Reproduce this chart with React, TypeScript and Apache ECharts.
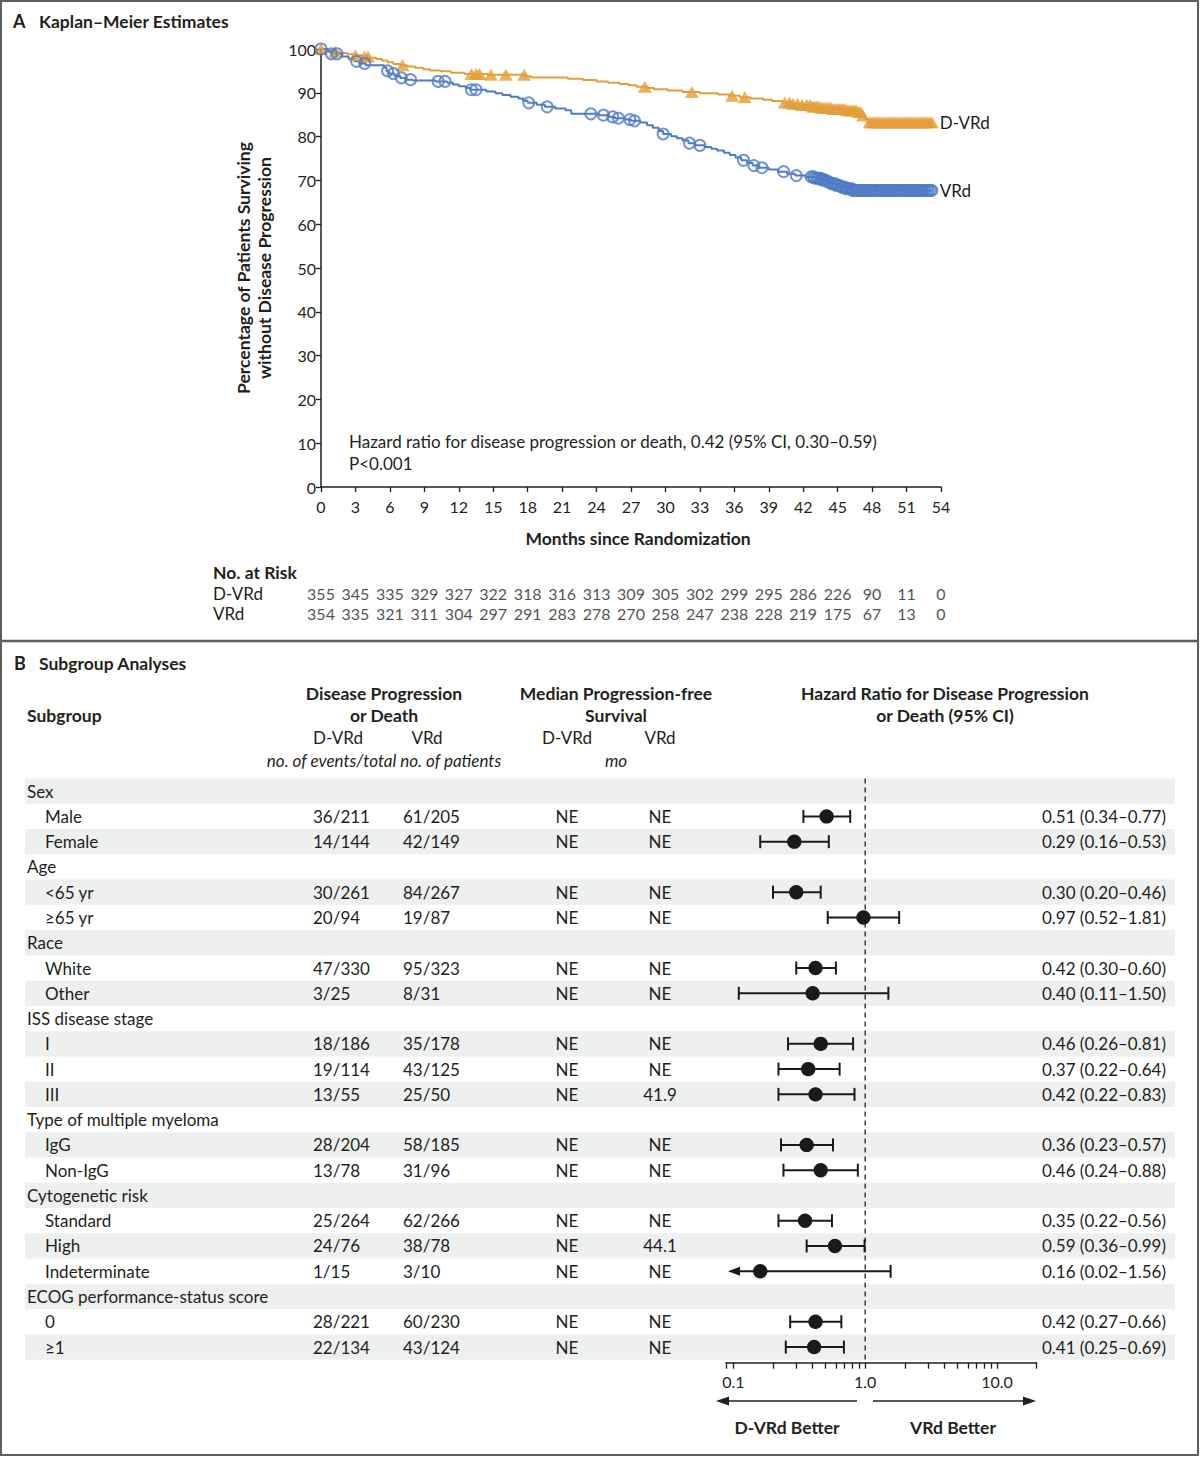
import React, { useEffect, useRef } from "react";
import * as echarts from "echarts";

const FONT = "Lato, 'Noto Sans', sans-serif";
const ORANGE = "#E39E38";
const BLUE = "#4F7CC6";
const TEXT = "#231F20";
const STRIPE = "#EEEFEF";
const FRAME = "#5E5E5E";
const FS = 17;
const FSB = 17.5;

// ---- Panel A: Kaplan–Meier curves [month, % surviving without progression]
const dvrdCurve: number[][] = [
  [0, 100], [0.5, 99.7], [1.0, 99.4], [1.6, 99.1], [2.3, 98.8], [3.0, 98.6], [3.6, 98.3], [4.2, 98.0],
  [4.8, 97.7], [5.3, 97.4], [5.8, 97.0], [6.3, 96.6], [6.9, 96.3], [7.5, 96.0], [8.2, 95.7], [8.9, 95.4],
  [9.5, 95.1], [10.4, 94.9], [11.3, 94.6], [12.5, 94.3], [14.5, 94.1], [17.8, 93.8], [18.3, 93.5],
  [21.5, 93.2], [22.8, 92.9], [24.0, 92.6], [25.0, 92.3], [26.0, 92.0], [26.8, 91.7], [27.5, 91.4],
  [28.4, 91.1], [29.0, 90.8], [30.2, 90.5], [31.5, 90.2], [33.0, 89.9], [34.6, 89.6], [35.6, 89.3],
  [36.5, 89.0], [37.4, 88.7], [38.5, 88.4], [39.3, 88.1], [40.2, 87.8], [41.0, 87.5], [41.9, 87.2],
  [42.7, 86.9], [43.6, 86.6], [44.6, 86.3], [45.8, 86.0], [46.8, 85.6], [47.2, 84.8], [47.4, 84.0],
  [47.7, 83.3], [53.2, 83.3],
];
const vrdCurve: number[][] = [
  [0, 100], [0.6, 99.4], [0.9, 98.9], [1.8, 98.3], [2.4, 97.8], [2.9, 97.2], [3.4, 96.7], [3.9, 96.3],
  [5.5, 95.8], [5.7, 95.0], [5.9, 94.4], [6.4, 93.9], [6.9, 93.4], [7.4, 93.0], [8.0, 92.8], [10.0, 92.6],
  [11.0, 92.3], [11.5, 91.9], [12.0, 91.5], [12.6, 91.1], [13.0, 90.7], [14.4, 90.3], [15.2, 89.9],
  [15.8, 89.5], [16.5, 89.1], [17.2, 88.7], [17.6, 88.2], [18.0, 87.7], [18.8, 87.3], [19.5, 86.8],
  [20.4, 86.4], [21.3, 86.0], [21.8, 85.2], [24.2, 84.9], [25.1, 84.5], [25.6, 84.2], [26.5, 83.9],
  [27.0, 83.6], [27.8, 83.2], [28.4, 82.6], [28.9, 82.0], [29.4, 81.3], [29.8, 80.6], [30.5, 80.1],
  [31.0, 79.6], [31.5, 79.1], [32.0, 78.5], [32.6, 78.0], [33.4, 77.6], [34.0, 77.2], [34.5, 76.8],
  [35.1, 76.3], [35.6, 75.8], [36.1, 75.2], [36.6, 74.6], [37.1, 74.0], [37.6, 73.4], [38.1, 72.9],
  [39.0, 72.5], [39.8, 72.0], [40.6, 71.5], [41.3, 71.1], [42.2, 70.8], [43.0, 70.5], [43.6, 70.1],
  [44.0, 69.7], [44.4, 69.3], [44.8, 68.9], [45.2, 68.5], [45.7, 68.1], [46.3, 67.7], [53.2, 67.7],
];
// censoring times (months)
const dvrdCensor: number[] = [
  0, 1.2, 3.0, 3.8, 4.1, 7.1, 13.1, 13.5, 13.8, 14.8, 16.1, 17.7, 28.2, 32.3, 35.8, 36.9,
  40.4, 40.8, 41.1, 41.5, 41.9, 42.3, 42.6, 42.8, 43.0, 43.2, 43.4, 43.6, 43.8, 44.0, 44.2, 44.4,
  44.6, 44.8, 45.0, 45.2, 45.4, 45.6, 45.8, 46.0, 46.2, 46.4, 46.6, 46.8, 47.0, 47.2, 47.8, 48.0,
  48.2, 48.4, 48.6, 48.8, 49.0, 49.2, 49.4, 49.6, 49.8, 50.0, 50.2, 50.4, 50.6, 50.8, 51.0, 51.2,
  51.4, 51.6, 51.8, 52.0, 52.2, 52.4, 52.6, 52.8, 53.0, 53.2,
];
const vrdCensor: number[] = [
  0, 0.9, 1.4, 3.1, 3.8, 5.8, 6.3, 7.0, 7.8, 10.2, 10.8, 13.1, 13.5, 18.1, 19.7, 23.5, 24.6, 25.4,
  25.9, 26.9, 27.3, 29.8, 32.1, 33.0, 36.8, 37.7, 38.4, 40.3, 41.4, 42.7, 42.9, 43.0, 43.2, 43.3,
  43.5, 43.6, 43.8, 43.9, 44.1, 44.2, 44.4, 44.5, 44.7, 44.8, 45.0, 45.1, 45.3, 45.4, 45.6, 45.7,
  45.9, 46.0, 46.2, 46.3, 46.5, 46.6, 46.8, 46.9, 47.1, 47.2, 47.4, 47.5, 47.7, 47.8, 48.0, 48.1,
  48.3, 48.4, 48.6, 48.7, 48.9, 49.0, 49.2, 49.3, 49.5, 49.6, 49.8, 49.9, 50.1, 50.2, 50.4, 50.5,
  50.7, 50.8, 51.0, 51.1, 51.3, 51.4, 51.6, 51.7, 51.9, 52.0, 52.2, 52.3, 52.5, 52.6, 52.8, 52.9,
  53.1, 53.2,
];
const riskMonths = [0, 3, 6, 9, 12, 15, 18, 21, 24, 27, 30, 33, 36, 39, 42, 45, 48, 51, 54];
const riskGroups = ["D-VRd", "VRd"];
const riskDVRd = [355, 345, 335, 329, 327, 322, 318, 316, 313, 309, 305, 302, 299, 295, 286, 226, 90, 11, 0];
const riskVRd = [354, 335, 321, 311, 304, 297, 291, 283, 278, 270, 258, 247, 238, 228, 219, 175, 67, 13, 0];

// ---- Panel B: subgroup analyses
const rowLabels = [
  "Sex", "Male", "Female", "Age", "<65 yr", "≥65 yr", "Race", "White", "Other",
  "ISS disease stage", "I", "II", "III", "Type of multiple myeloma", "IgG", "Non-IgG",
  "Cytogenetic risk", "Standard", "High", "Indeterminate", "ECOG performance-status score", "0", "≥1",
];
const rowIsHeader = [1, 0, 0, 1, 0, 0, 1, 0, 0, 1, 0, 0, 0, 1, 0, 0, 1, 0, 0, 0, 1, 0, 0];
const eventsDVRd = ["", "36/211", "14/144", "", "30/261", "20/94", "", "47/330", "3/25", "", "18/186", "19/114", "13/55", "", "28/204", "13/78", "", "25/264", "24/76", "1/15", "", "28/221", "22/134"];
const eventsVRd = ["", "61/205", "42/149", "", "84/267", "19/87", "", "95/323", "8/31", "", "35/178", "43/125", "25/50", "", "58/185", "31/96", "", "62/266", "38/78", "3/10", "", "60/230", "43/124"];
const medianDVRd = ["", "NE", "NE", "", "NE", "NE", "", "NE", "NE", "", "NE", "NE", "NE", "", "NE", "NE", "", "NE", "NE", "NE", "", "NE", "NE"];
const medianVRd = ["", "NE", "NE", "", "NE", "NE", "", "NE", "NE", "", "NE", "NE", "41.9", "", "NE", "NE", "", "NE", "44.1", "NE", "", "NE", "NE"];
const hazardRatio = [null, 0.51, 0.29, null, 0.30, 0.97, null, 0.42, 0.40, null, 0.46, 0.37, 0.42, null, 0.36, 0.46, null, 0.35, 0.59, 0.16, null, 0.42, 0.41];
const ciLower = [null, 0.34, 0.16, null, 0.20, 0.52, null, 0.30, 0.11, null, 0.26, 0.22, 0.22, null, 0.23, 0.24, null, 0.22, 0.36, 0.02, null, 0.27, 0.25];
const ciUpper = [null, 0.77, 0.53, null, 0.46, 1.81, null, 0.60, 1.50, null, 0.81, 0.64, 0.83, null, 0.57, 0.88, null, 0.56, 0.99, 1.56, null, 0.66, 0.69];
const hrTickValues = [0.088, 0.1, 0.2, 0.3, 0.4, 0.5, 0.6, 0.7, 0.8, 0.9, 1, 2, 3, 4, 5, 6, 7, 8, 9, 10, 20];
const hrLabelValues = [0.1, 1, 10];

const FX_MIN = Math.log10(0.088);
const FX_MAX = Math.log10(20);

function survAt(curve: number[][], t: number) {
  let v = curve[0][1];
  for (const [m, s] of curve) {
    if (m <= t) v = s;
    else break;
  }
  return v;
}

function txt(x: number, y: number, text: string, opts: any = {}) {
  const align = opts.align || "left";
  return {
    type: "text",
    x,
    y,
    rotation: opts.rotation || 0,
    silent: true,
    style: {
      text,
      fill: TEXT,
      fontSize: opts.size || (opts.bold ? FSB : FS),
      fontWeight: opts.bold ? "bold" : "normal",
      fontStyle: opts.italic ? "italic" : "normal",
      fontFamily: FONT,
      lineHeight: opts.lineHeight || 20,
      align,
      textAlign: align,
      verticalAlign: "middle",
      textVerticalAlign: "middle",
    },
  };
}

function arrowLine(x1: number, x2: number, y: number) {
  const dir = x2 > x1 ? 1 : -1;
  const head = 13;
  return [
    { type: "line", silent: true, shape: { x1, y1: y, x2: x2 - dir * head, y2: y }, style: { stroke: TEXT, lineWidth: 1.6 } },
    {
      type: "polygon",
      silent: true,
      shape: { points: [[x2, y], [x2 - dir * head, y - 4.5], [x2 - dir * head, y + 4.5]] },
      style: { fill: TEXT },
    },
  ];
}

export default function App() {
  const ref = useRef<HTMLDivElement>(null);

  useEffect(() => {
    document.body.style.margin = "0";
    if (!ref.current) return;
    const chart = echarts.init(ref.current, null, { renderer: "svg" });

    const axisBase = {
      axisLine: { show: true, lineStyle: { color: TEXT, width: 1.5 } },
      axisTick: { show: true, length: 5, lineStyle: { color: TEXT, width: 1.3 } },
      splitLine: { show: false },
      axisLabel: { color: TEXT, fontSize: 16, fontFamily: FONT, showMinLabel: true, showMaxLabel: true },
    };

    const riskData: any[] = [];
    riskMonths.forEach((m, i) => {
      riskData.push([m, 0, riskDVRd[i]]);
      riskData.push([m, 1, riskVRd[i]]);
    });

    const forestData: any[] = [];
    hazardRatio.forEach((hr, i) => {
      if (hr == null) return;
      forestData.push([Math.log10(hr), i, Math.log10(ciLower[i] as number), Math.log10(ciUpper[i] as number)]);
    });

    const hrText = hazardRatio.map((hr, i) =>
      hr == null ? "" : `${hr.toFixed(2)} (${(ciLower[i] as number).toFixed(2)}–${(ciUpper[i] as number).toFixed(2)})`
    );

    const option: any = {
      animation: false,
      textStyle: { fontFamily: FONT, color: TEXT },
      grid: [
        { left: 321, top: 49, width: 620, height: 438, containLabel: false, outerBoundsMode: "none" },
        { left: 321, top: 583, width: 620, height: 40, containLabel: false, outerBoundsMode: "none" },
        { left: 25, top: 778.5, width: 1150, height: 581.2, containLabel: false, outerBoundsMode: "none" },
        { left: 726, top: 778.5, width: 310.7, height: 581.2, containLabel: false, outerBoundsMode: "none" },
      ],
      xAxis: [
        {
          ...axisBase,
          gridIndex: 0,
          type: "value",
          min: 0,
          max: 54,
          interval: 3,
          axisLabel: { ...axisBase.axisLabel, margin: 11 },
        },
        { gridIndex: 1, type: "value", min: 0, max: 54, show: false },
        { gridIndex: 2, type: "value", min: 25, max: 1175, show: false },
        {
          gridIndex: 3,
          type: "value",
          min: FX_MIN,
          max: FX_MAX,
          offset: 3,
          axisLine: { show: true, lineStyle: { color: TEXT, width: 1.5 } },
          axisTick: {
            show: true,
            length: 6,
            lineStyle: { color: TEXT, width: 1.3 },
            customValues: hrTickValues.map((v) => Math.log10(v)),
          },
          splitLine: { show: false },
          axisLabel: {
            color: TEXT,
            fontSize: 16,
            fontFamily: FONT,
            margin: 11,
            customValues: hrLabelValues.map((v) => Math.log10(v)),
            formatter: (v: number) => (v < -0.5 ? "0.1" : v < 0.5 ? "1.0" : "10.0"),
          },
        },
      ],
      yAxis: [
        {
          ...axisBase,
          gridIndex: 0,
          type: "value",
          min: 0,
          max: 100,
          interval: 10,
          axisLabel: { ...axisBase.axisLabel, margin: 5 },
        },
        {
          gridIndex: 1,
          type: "category",
          data: riskGroups,
          inverse: true,
          axisLine: { show: false },
          axisTick: { show: false },
          splitLine: { show: false },
          axisLabel: {
            show: true,
            interval: 0,
            hideOverlap: false,
            align: "left",
            margin: 108,
            color: TEXT,
            fontSize: FS,
            fontFamily: FONT,
          },
        },
        { gridIndex: 2, type: "category", data: rowLabels, inverse: true, show: false },
        { gridIndex: 3, type: "category", data: rowLabels, inverse: true, show: false },
      ],
      series: [
        {
          name: "D-VRd",
          type: "line",
          xAxisIndex: 0,
          yAxisIndex: 0,
          step: "end",
          symbol: "none",
          data: dvrdCurve,
          lineStyle: { color: ORANGE, width: 2 },
          itemStyle: { color: ORANGE },
          endLabel: { show: true, formatter: "D-VRd", color: TEXT, fontSize: FS, fontFamily: FONT, distance: 8 },
          z: 3,
          silent: true,
        },
        {
          name: "VRd",
          type: "line",
          xAxisIndex: 0,
          yAxisIndex: 0,
          step: "end",
          symbol: "none",
          data: vrdCurve,
          lineStyle: { color: BLUE, width: 2 },
          itemStyle: { color: BLUE },
          endLabel: { show: true, formatter: "VRd", color: TEXT, fontSize: FS, fontFamily: FONT, distance: 8 },
          z: 3,
          silent: true,
        },
        {
          name: "D-VRd censored",
          type: "scatter",
          xAxisIndex: 0,
          yAxisIndex: 0,
          symbol: "triangle",
          symbolSize: [14, 12],
          data: dvrdCensor.map((t) => [t, survAt(dvrdCurve, t)]),
          itemStyle: { color: ORANGE },
          z: 4,
          silent: true,
        },
        {
          name: "VRd censored",
          type: "scatter",
          xAxisIndex: 0,
          yAxisIndex: 0,
          symbol: "circle",
          symbolSize: 11,
          data: vrdCensor.map((t) => [t, survAt(vrdCurve, t)]),
          itemStyle: { color: "rgba(255,255,255,0)", borderColor: BLUE, borderWidth: 2 },
          z: 5,
          silent: true,
        },
        {
          name: "At risk",
          type: "scatter",
          xAxisIndex: 1,
          yAxisIndex: 1,
          symbolSize: 1,
          itemStyle: { color: "rgba(0,0,0,0)" },
          data: riskData,
          label: {
            show: true,
            position: "inside",
            formatter: (p: any) => String(p.value[2]),
            color: TEXT,
            fontSize: 16,
            fontFamily: FONT,
          },
          silent: true,
        },
        {
          name: "Table",
          type: "custom",
          xAxisIndex: 2,
          yAxisIndex: 2,
          z: 1,
          silent: true,
          data: rowLabels.map((_, i) => [25, i]),
          renderItem: (params: any, api: any) => {
            const i = api.value(1);
            const cy = api.coord([25, i])[1];
            const cs = params.coordSys;
            const h = cs.height / rowLabels.length;
            const kids: any[] = [];
            if (i % 2 === 0) {
              kids.push({
                type: "rect",
                shape: { x: cs.x, y: cy - h / 2, width: cs.width, height: h },
                style: { fill: STRIPE },
              });
            }
            const t = (s: string, x: number, align: string) => ({
              type: "text",
              x,
              y: cy,
              style: {
                text: s,
                fill: TEXT,
                fontSize: FS,
                fontFamily: FONT,
                align,
                textAlign: align,
                verticalAlign: "middle",
                textVerticalAlign: "middle",
              },
            });
            kids.push(t(rowLabels[i], rowIsHeader[i] ? 27 : 45, "left"));
            if (!rowIsHeader[i]) {
              kids.push(t(eventsDVRd[i], 313, "left"));
              kids.push(t(eventsVRd[i], 403, "left"));
              kids.push(t(medianDVRd[i], 567, "center"));
              kids.push(t(medianVRd[i], 660, "center"));
              kids.push(t(hrText[i], 1166, "right"));
            }
            return { type: "group", children: kids };
          },
        },
        {
          name: "Reference",
          type: "custom",
          xAxisIndex: 3,
          yAxisIndex: 3,
          z: 2,
          silent: true,
          data: [[0, 0]],
          renderItem: (params: any, api: any) => {
            const cs = params.coordSys;
            const x = api.coord([0, 0])[0];
            return {
              type: "line",
              shape: { x1: x, y1: cs.y, x2: x, y2: cs.y + cs.height + 4 },
              style: { stroke: TEXT, lineWidth: 1.3, lineDash: [5, 4] },
            };
          },
        },
        {
          name: "Hazard ratio",
          type: "custom",
          xAxisIndex: 3,
          yAxisIndex: 3,
          z: 3,
          silent: true,
          data: forestData,
          renderItem: (params: any, api: any) => {
            const cs = params.coordSys;
            const lx = api.value(0);
            const yi = api.value(1);
            const lo = api.value(2);
            const hi = api.value(3);
            const [px, cy] = api.coord([lx, yi]);
            const clamped = lo < FX_MIN;
            const loX = clamped ? cs.x + 2 : api.coord([lo, yi])[0];
            const hiX = api.coord([hi, yi])[0];
            const st = { stroke: "#1A1A1A", lineWidth: 2 };
            const kids: any[] = [
              { type: "line", shape: { x1: clamped ? loX + 10 : loX, y1: cy, x2: hiX, y2: cy }, style: st },
              { type: "line", shape: { x1: hiX, y1: cy - 6.5, x2: hiX, y2: cy + 6.5 }, style: st },
            ];
            if (clamped) {
              kids.push({
                type: "polygon",
                shape: { points: [[loX, cy], [loX + 12, cy - 4.5], [loX + 12, cy + 4.5]] },
                style: { fill: "#1A1A1A" },
              });
            } else {
              kids.push({ type: "line", shape: { x1: loX, y1: cy - 6.5, x2: loX, y2: cy + 6.5 }, style: st });
            }
            kids.push({ type: "circle", shape: { cx: px, cy, r: 7.2 }, style: { fill: "#1A1A1A" } });
            return { type: "group", children: kids };
          },
        },
      ],
      graphic: [
        {
          type: "rect",
          silent: true,
          shape: { x: 1, y: 1, width: 1197, height: 1454 },
          style: { fill: "none", stroke: FRAME, lineWidth: 2 },
        },
        {
          type: "line",
          silent: true,
          shape: { x1: 1, y1: 641, x2: 1198, y2: 641 },
          style: { stroke: FRAME, lineWidth: 2.5 },
        },
        txt(13, 21, "A", { bold: true, size: 18 }),
        txt(39, 21, "Kaplan–Meier Estimates", { bold: true }),
        txt(254, 268, "Percentage of Patients Surviving\nwithout Disease Progression", {
          bold: true,
          align: "center",
          rotation: Math.PI / 2,
          lineHeight: 21,
        }),
        txt(638, 538, "Months since Randomization", { bold: true, align: "center" }),
        txt(349, 441, "Hazard ratio for disease progression or death, 0.42 (95% CI, 0.30–0.59)", {}),
        txt(349, 463, "P<0.001", {}),
        txt(213, 572, "No. at Risk", { bold: true }),
        txt(14, 663, "B", { bold: true, size: 18 }),
        txt(39, 663, "Subgroup Analyses", { bold: true }),
        txt(27, 715, "Subgroup", { bold: true }),
        txt(384, 693, "Disease Progression", { bold: true, align: "center" }),
        txt(384, 715, "or Death", { bold: true, align: "center" }),
        txt(338, 737, "D-VRd", { align: "center" }),
        txt(427, 737, "VRd", { align: "center" }),
        txt(384, 760, "no. of events/total no. of patients", { align: "center", italic: true }),
        txt(616, 693, "Median Progression-free", { bold: true, align: "center" }),
        txt(616, 715, "Survival", { bold: true, align: "center" }),
        txt(567, 737, "D-VRd", { align: "center" }),
        txt(660, 737, "VRd", { align: "center" }),
        txt(616, 760, "mo", { align: "center", italic: true }),
        txt(945, 693, "Hazard Ratio for Disease Progression", { bold: true, align: "center" }),
        txt(945, 715, "or Death (95% CI)", { bold: true, align: "center" }),
        ...arrowLine(857, 716, 1401),
        ...arrowLine(873, 1036, 1401),
        txt(787, 1427, "D-VRd Better", { bold: true, align: "center" }),
        txt(953, 1427, "VRd Better", { bold: true, align: "center" }),
      ],
    };

    chart.setOption(option);
    return () => chart.dispose();
  }, []);

  return <div ref={ref} style={{ width: 1200, height: 1457 }} />;
}
